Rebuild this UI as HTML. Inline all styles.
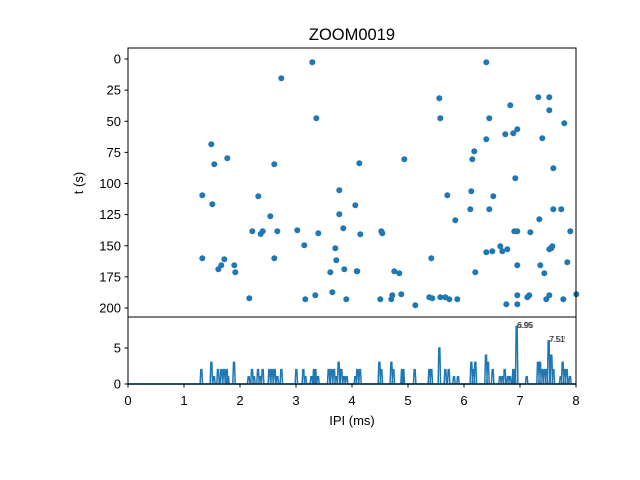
<!DOCTYPE html>
<html><head><meta charset="utf-8"><style>
html,body{margin:0;padding:0;background:#fff}
svg{display:block;font-family:"Liberation Sans","DejaVu Sans",sans-serif}
</style></head><body>
<svg id="s" width="640" height="480" xmlns="http://www.w3.org/2000/svg">
<rect width="640" height="480" fill="#fff"/>
<text x="352" y="40" font-size="16.5" text-anchor="middle">ZOOM0019</text>
<g id="pts" fill="#1f77b4"></g>
<path id="hist" fill="none" stroke="#1f77b4" stroke-width="1.5"/>
<line x1="128" y1="384" x2="576" y2="384" stroke="#1f77b4" stroke-width="1.5"/>
<rect x="128" y="48" width="448" height="269" fill="none" stroke="#000" stroke-width="1"/>
<rect x="128" y="317" width="448" height="67" fill="none" stroke="#000" stroke-width="1"/>
<g id="ticks" font-size="13" stroke="#000"></g>
<text x="517" y="328" font-size="8" fill="#222">6.95</text>
<text x="518" y="328" font-size="8" fill="#222" opacity="0.6">6.96</text>
<text x="549" y="342" font-size="8" fill="#222">7.51</text>
<text x="550" y="342" font-size="8" fill="#222" opacity="0.6">7.52</text>
<text x="352" y="425" font-size="13" text-anchor="middle">IPI (ms)</text>
<text transform="translate(83,183) rotate(-90)" font-size="13" text-anchor="middle">t (s)</text>
</svg>
<script>
var NS="http://www.w3.org/2000/svg";
function el(t,a,p,txt){var e=document.createElementNS(NS,t);for(var k in a)e.setAttribute(k,a[k]);if(txt!==undefined)e.textContent=txt;p.appendChild(e);return e;}
var P=[[312.3,62.3],[281.3,78.3],[316.3,118.3],[211.3,144.3],[214.3,164.3],[227.3,158.3],[274.3,164.3],[202.3,195.3],[212.3,204.3],[258.3,196.3],[270.3,216.3],[339.3,190.3],[355.3,205.3],[339.3,214.3],[252.3,231.3],[260.7,234],[262.7,231.3],[277.3,231.3],[297.3,230.3],[318.3,233.3],[343.3,228.3],[304.3,245.3],[335.3,248.3],[202.3,258.3],[224.3,259.3],[221.3,265.3],[218.3,269.3],[234.3,265.3],[235.3,272.3],[274.3,258.3],[336.3,260.3],[330.3,272.3],[344.3,269.3],[356.7,271.3],[249.3,298.3],[305.3,299.3],[315.3,295.3],[332.3,292.3],[346.3,299.3],
[486.3,62.3],[439.3,98.3],[440.3,118.3],[538.3,97.3],[549.3,97.3],[510.3,105.3],[549.3,110.3],[489.3,118.3],[564.3,123.3],[505.3,134.3],[513.3,133.3],[517.3,129.3],[486.3,139.3],[542.3,138.3],[474.3,151.3],[472.3,159.3],[359.3,163.3],[404.3,159.3],[553.3,168.3],[515.3,178.3],[447.3,195.3],[471.3,191.3],[493.3,196.3],[470.3,209.3],[489.3,209.3],[553.3,209.3],[561.3,209.3],[455.3,220.3],[539.3,219.3],[381.3,231.3],[382.3,233.3],[360.3,234.3],[514.3,231.3],[517.3,231.3],[530.3,232.3],[570.3,231.3],[500.3,246.3],[502.3,251.3],[507.3,249.3],[486.3,252.3],[492.3,251.3],[549.3,249.3],[551.3,248.3],[552.3,246.3],[431.3,258.3],[517.3,265.3],[540.3,265.3],[567.3,262.3],[357.3,271.3],[394.3,271.3],[399.3,273.3],[475.3,272.3],[544.3,273.3],[380.3,299.3],[391.3,299.3],[392.3,295.3],[401.3,294.3],[415.3,305.3],[429.3,297.3],[432.3,298.3],[440.3,297.3],[445.3,297.3],[449.3,299.3],[457.3,299.3],[506.3,304.3],[517.3,295.3],[517.3,304.3],[527.3,297.3],[529.3,295.3],[546.3,299.3],[549.3,295.3],[563.3,299.3],[576.3,294.3]];
var g=document.getElementById("pts");
P.forEach(function(p){el("circle",{cx:p[0],cy:p[1],r:3},g);});
var H=[[220,2],[250,3],[258,1],[270,2],[280,2],[288,2],[296,2],[300,1],[318,3],[362,1],[372,2],[378,1],[390,2],[396,1],[404,2],[424,2],[432,2],[440,2],[448,1],[460,2],[505,2],[526,2],[532,1],[550,1],[558,2],[562,2],[570,1],[602,2],[610,2],[618,2],[624,1],[632,3],[640,2],[648,1],[656,1],[682,1],[688,2],[696,2],[754,3],[760,2],[790,3],[796,2],[822,2],[826,2],[860,2],[904,2],[910,2],[934,5],[952,2],[962,2],[978,1],[990,1],[1030,3],[1036,2],[1042,3],[1074,4],[1080,3],[1094,2],[1116,1],[1124,1],[1130,2],[1140,1],[1146,1],[1156,2],[1160,2],[1166,8],[1196,1],[1230,3],[1236,3],[1242,2],[1250,2],[1256,2],[1262,6],[1270,4],[1276,2],[1298,1],[1304,3],[1310,2],[1316,2],[1326,1]];
var d="M128,384";
H.forEach(function(h){var x=128+h[0]/3,y=384-h[1]*7.2;d+=" L"+(x-1.2)+",384 L"+(x-0.5)+","+y+" L"+(x+0.5)+","+y+" L"+(x+1.2)+",384";});
d+=" L576,384";
document.getElementById("hist").setAttribute("d",d);
var t=document.getElementById("ticks");
for(var k=0;k<=8;k++){var x=128+56*k;el("line",{x1:x,y1:384,x2:x,y2:387.5},t);el("text",{x:x,y:405,"text-anchor":"middle",stroke:"none"},t,String(k));}
for(var v=0;v<=200;v+=25){var y=59+1.245*v;el("line",{x1:124.5,y1:y,x2:128,y2:y},t);el("text",{x:121,y:y+4.5,"text-anchor":"end",stroke:"none"},t,String(v));}
[[0,384],[5,348]].forEach(function(a){el("line",{x1:124.5,y1:a[1],x2:128,y2:a[1]},t);el("text",{x:121,y:a[1]+4.5,"text-anchor":"end",stroke:"none"},t,String(a[0]));});
</script>
</body></html>
